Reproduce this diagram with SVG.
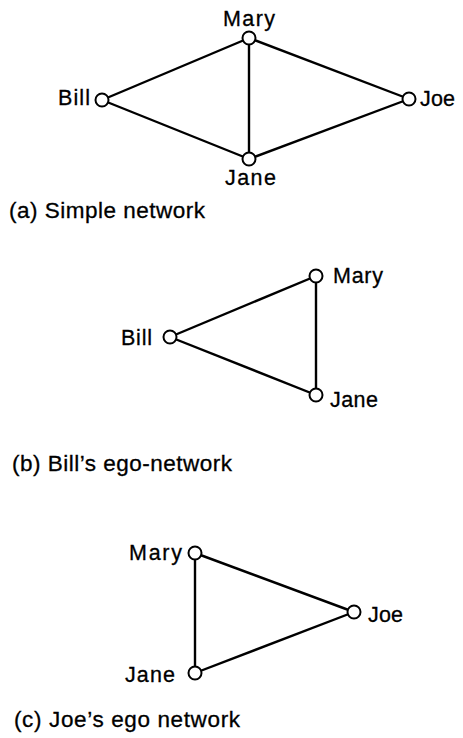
<svg xmlns="http://www.w3.org/2000/svg" width="463" height="738" viewBox="0 0 463 738">
<style>
.edge{stroke:#000;stroke-width:2.4;fill:none}
.node{fill:#fff;stroke:#000;stroke-width:2}
text{font-family:"Liberation Sans",Arial,sans-serif;font-size:21.5px;fill:#000;stroke:#000;stroke-width:0.3}
.cap{font-size:22.5px}
</style>
<rect width="463" height="738" fill="#fff"/>
<g id="connectors">
<line class="edge" x1="102" y1="100" x2="249" y2="38"/>
<line class="edge" x1="102" y1="100" x2="249" y2="159"/>
<line class="edge" x1="249" y1="38" x2="249" y2="159"/>
<line class="edge" x1="249" y1="38" x2="409" y2="99"/>
<line class="edge" x1="249" y1="159" x2="409" y2="99"/>
<line class="edge" x1="170" y1="337" x2="316" y2="276"/>
<line class="edge" x1="170" y1="337" x2="316" y2="395"/>
<line class="edge" x1="316" y1="276" x2="316" y2="395"/>
<line class="edge" x1="195" y1="553" x2="354" y2="612"/>
<line class="edge" x1="195" y1="673" x2="354" y2="612"/>
<line class="edge" x1="195" y1="553" x2="195" y2="673"/>
</g>
<g id="a-mary"><circle class="node" cx="249" cy="38" r="6.5"/><text x="223" y="26" textLength="52" lengthAdjust="spacing">Mary</text></g>
<g id="a-bill"><circle class="node" cx="102" cy="100" r="6.5"/><text x="58" y="105" textLength="32" lengthAdjust="spacing">Bill</text></g>
<g id="a-joe"><circle class="node" cx="409" cy="99" r="6.5"/><text x="420" y="106" textLength="35" lengthAdjust="spacing">Joe</text></g>
<g id="a-jane"><circle class="node" cx="249" cy="159" r="6.5"/><text x="225" y="185" textLength="51" lengthAdjust="spacing">Jane</text></g>
<g id="b-bill"><circle class="node" cx="170" cy="337" r="6.5"/><text x="121" y="345" textLength="31" lengthAdjust="spacing">Bill</text></g>
<g id="b-mary"><circle class="node" cx="316" cy="276" r="6.5"/><text x="333" y="283" textLength="50" lengthAdjust="spacing">Mary</text></g>
<g id="b-jane"><circle class="node" cx="316" cy="395" r="6.5"/><text x="330" y="407" textLength="48" lengthAdjust="spacing">Jane</text></g>
<g id="c-mary"><circle class="node" cx="195" cy="553" r="6.5"/><text x="129" y="560" textLength="53" lengthAdjust="spacing">Mary</text></g>
<g id="c-joe"><circle class="node" cx="354" cy="612" r="6.5"/><text x="368" y="622" textLength="35" lengthAdjust="spacing">Joe</text></g>
<g id="c-jane"><circle class="node" cx="195" cy="673" r="6.5"/><text x="125" y="682" textLength="50" lengthAdjust="spacing">Jane</text></g>
<text class="cap" x="9" y="218" textLength="196" lengthAdjust="spacing">(a) Simple network</text>
<text class="cap" x="12" y="471" textLength="220" lengthAdjust="spacing">(b) Bill’s ego-network</text>
<text class="cap" x="14" y="727" textLength="226" lengthAdjust="spacing">(c) Joe’s ego network</text>
</svg>
